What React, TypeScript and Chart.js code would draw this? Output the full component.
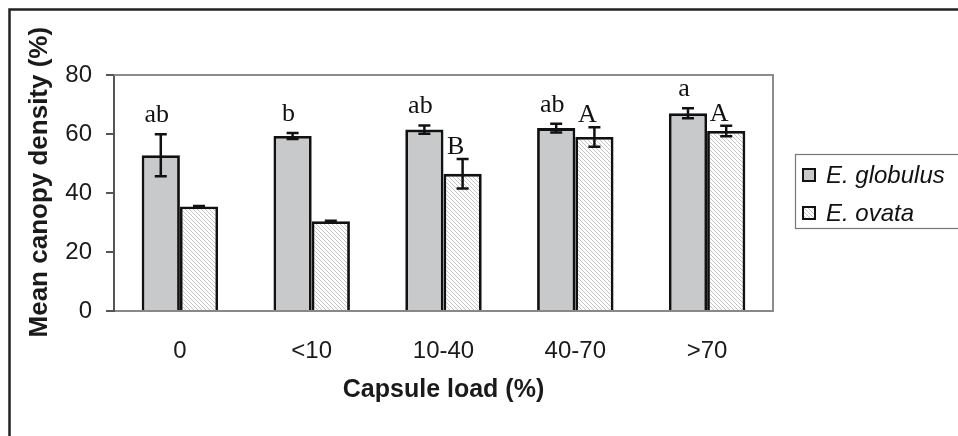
import { useEffect, useRef } from 'react';
import { Chart, registerables } from 'chart.js';

Chart.register(...registerables);

const categories = ['0', '<10', '10-40', '40-70', '>70'];
const seriesNames = ['E. globulus', 'E. ovata'];
const globulus = [52.8, 59.3, 61.5, 62.0, 67.0];
const globulusErr = [7.1, 1.0, 1.4, 1.5, 1.7];
const ovata = [35.4, 30.4, 46.5, 59.0, 61.0];
const ovataErr = [0.2, 0.2, 5.0, 3.3, 1.8];
const globulusLetters = ['ab', 'b', 'ab', 'ab', 'a'];
const ovataLetters = ['', '', 'B', 'A', 'A'];
const yMin = 0;
const yMax = 80;
const yStep = 20;
const yTitle = 'Mean canopy density (%)';
const xTitle = 'Capsule load (%)';

function makeHatch(): CanvasPattern | string {
  const c = document.createElement('canvas');
  c.width = 4;
  c.height = 4;
  const g = c.getContext('2d');
  if (!g) return '#ebebeb';
  g.fillStyle = '#ffffff';
  g.fillRect(0, 0, 4, 4);
  g.strokeStyle = '#c4c4c4';
  g.lineWidth = 1;
  g.beginPath();
  for (const k of [-4, 0, 4]) {
    g.moveTo(k, 0);
    g.lineTo(k + 4, 4);
  }
  g.stroke();
  const p = g.createPattern(c, 'repeat');
  return p || '#ebebeb';
}

export default function App() {
  const ref = useRef<HTMLCanvasElement | null>(null);

  useEffect(() => {
    if (!ref.current) return;
    const hatch = makeHatch();
    const errs = [globulusErr, ovataErr];
    const letters = [globulusLetters, ovataLetters];

    const framePlugin = {
      id: 'frame',
      beforeDraw(chart: any) {
        const ctx = chart.ctx;
        ctx.save();
        ctx.fillStyle = '#ffffff';
        ctx.fillRect(0, 0, chart.width, chart.height);
        ctx.strokeStyle = '#222222';
        ctx.lineWidth = 2.5;
        ctx.beginPath();
        ctx.moveTo(9.5, chart.height + 5);
        ctx.lineTo(9.5, 9.5);
        ctx.lineTo(chart.width + 5, 9.5);
        ctx.stroke();
        ctx.restore();
      },
      afterDraw(chart: any) {
        const ctx = chart.ctx;
        const a = chart.chartArea;
        const ys = chart.scales.y;
        ctx.save();
        // plot area top/right border
        ctx.strokeStyle = '#8c8c8c';
        ctx.lineWidth = 2;
        ctx.beginPath();
        ctx.moveTo(a.left, a.top);
        ctx.lineTo(a.right, a.top);
        ctx.lineTo(a.right, a.bottom);
        ctx.stroke();

        // error bars
        ctx.strokeStyle = '#111111';
        ctx.lineWidth = 2.5;
        chart.data.datasets.forEach((ds: any, di: number) => {
          const meta = chart.getDatasetMeta(di);
          meta.data.forEach((bar: any, i: number) => {
            const v = ds.data[i];
            const e = errs[di][i];
            const yT = ys.getPixelForValue(v + e);
            const yB = ys.getPixelForValue(v - e);
            ctx.beginPath();
            ctx.moveTo(bar.x, yT);
            ctx.lineTo(bar.x, yB);
            ctx.moveTo(bar.x - 6, yT);
            ctx.lineTo(bar.x + 6, yT);
            ctx.moveTo(bar.x - 6, yB);
            ctx.lineTo(bar.x + 6, yB);
            ctx.stroke();
          });
        });

        // letters
        ctx.fillStyle = '#111111';
        ctx.font = '26px "Liberation Serif", "Times New Roman", serif';
        ctx.textAlign = 'center';
        ctx.textBaseline = 'middle';
        chart.data.datasets.forEach((ds: any, di: number) => {
          const meta = chart.getDatasetMeta(di);
          meta.data.forEach((bar: any, i: number) => {
            const t = letters[di][i];
            if (!t) return;
            const v = ds.data[i];
            const e = errs[di][i];
            const yT = ys.getPixelForValue(v + e);
            const dy = di === 0 ? 19 : 12;
            const dx = di === 0 ? -4 : -7;
            ctx.fillText(t, bar.x + dx, yT - dy);
          });
        });

        // legend
        const lx = 795;
        const ly = 154;
        ctx.strokeStyle = '#777777';
        ctx.lineWidth = 1.2;
        ctx.strokeRect(lx + 0.5, ly + 0.5, chart.width - lx + 10, 74);
        ctx.font = 'italic 24px "Liberation Sans", Arial, sans-serif';
        ctx.textAlign = 'left';
        ctx.textBaseline = 'middle';
        chart.data.datasets.forEach((ds: any, di: number) => {
          const cy = ly + 21 + di * 38;
          ctx.fillStyle = ds.backgroundColor;
          ctx.fillRect(803, cy - 6, 12, 12);
          ctx.strokeStyle = '#111111';
          ctx.lineWidth = 2;
          ctx.strokeRect(803, cy - 6, 12, 12);
          ctx.fillStyle = '#111111';
          ctx.fillText(ds.label, 826, cy + 1);
        });
        ctx.restore();
      },
    };

    const chart = new Chart(ref.current, {
      type: 'bar',
      data: {
        labels: categories,
        datasets: [
          {
            label: seriesNames[0],
            data: globulus,
            backgroundColor: '#c8c9cb',
            borderColor: '#111111',
            borderWidth: 2.8,
            categoryPercentage: 0.58,
            barPercentage: 1.0,
          },
          {
            label: seriesNames[1],
            data: ovata,
            backgroundColor: hatch as any,
            borderColor: '#111111',
            borderWidth: 2.8,
            categoryPercentage: 0.58,
            barPercentage: 1.0,
          },
        ],
      },
      options: {
        animation: false,
        responsive: true,
        maintainAspectRatio: false,
        layout: { padding: { left: 0, top: 75, right: 185, bottom: 0 } },
        plugins: {
          legend: { display: false },
          tooltip: { enabled: false },
        },
        scales: {
          x: {
            grid: { drawOnChartArea: false, drawTicks: false },
            border: { display: true, color: '#888888', width: 2 },
            ticks: {
              color: '#1a1a1a',
              padding: 26,
              font: { family: '"Liberation Sans", Arial, sans-serif', size: 24 },
            },
            title: {
              display: true,
              text: xTitle,
              color: '#1a1a1a',
              font: { family: '"Liberation Sans", Arial, sans-serif', size: 25, weight: 'bold' },
              padding: { top: 0, bottom: 31 },
            },
            afterFit: (s: any) => {
              s.height = 125;
            },
          },
          y: {
            min: yMin,
            max: yMax,
            grid: { drawOnChartArea: false, drawTicks: true, tickLength: 8, color: '#555555', lineWidth: 2 },
            border: { display: true, color: '#555555', width: 2 },
            ticks: {
              stepSize: yStep,
              color: '#1a1a1a',
              padding: 14,
              font: { family: '"Liberation Sans", Arial, sans-serif', size: 24 },
            },
            title: {
              display: true,
              text: '   ' + yTitle,
              color: '#1a1a1a',
              font: { family: '"Liberation Sans", Arial, sans-serif', size: 26, weight: 'bold' },
              padding: { top: 24, bottom: 0 },
            },
            afterFit: (s: any) => {
              s.width = 114;
            },
          },
        },
      },
      plugins: [framePlugin],
    });

    return () => chart.destroy();
  }, []);

  return (
    <div style={{ position: 'fixed', left: 0, top: 0, width: 958, height: 436 }}>
      <canvas ref={ref} />
    </div>
  );
}
